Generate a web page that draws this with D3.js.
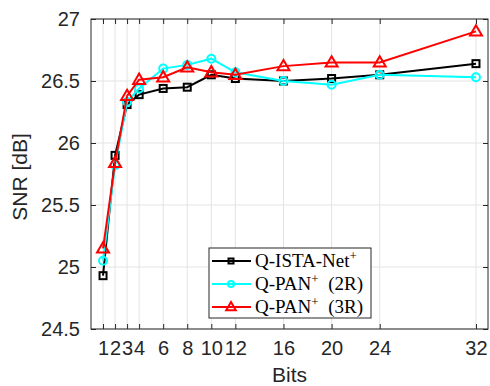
<!DOCTYPE html>
<html>
<head>
<meta charset="utf-8">
<script src="https://cdn.jsdelivr.net/npm/d3@7"></script>
<style>
body { margin: 0; background: #fff; }
svg { display: block; }
</style>
</head>
<body>
<svg id="chart" width="490" height="386"></svg>
<script>
// data
const bits = [1, 2, 3, 4, 6, 8, 10, 12, 16, 20, 24, 32]
const istaNet = [24.93, 25.90, 26.31, 26.39, 26.44, 26.45, 26.55, 26.52, 26.50, 26.52, 26.55, 26.64]
const pan2R = [25.05, 25.82, 26.33, 26.44, 26.60, 26.63, 26.68, 26.57, 26.50, 26.47, 26.55, 26.53]
const pan3R = [25.15, 25.84, 26.38, 26.51, 26.53, 26.61, 26.57, 26.55, 26.62, 26.65, 26.65, 26.90]
const yTicks = [24.5, 25, 25.5, 26, 26.5, 27]

const series = [
	{name: "Q-ISTA-Net", sup: "+", tail: "", values: istaNet, color: "#000000", marker: "square"},
	{name: "Q-PAN", sup: "+", tail: "\u00a0 (2R)", values: pan2R, color: "#00ffff", marker: "circle"},
	{name: "Q-PAN", sup: "+", tail: "\u00a0 (3R)", values: pan3R, color: "#ff0000", marker: "triangle"}
]

const svg = d3.select("#chart")
const m = {left: 91, right: 488, top: 19, bottom: 329}
const sans = "'Liberation Sans', Arial, sans-serif"

const x = d3.scaleLinear().domain([0, 33]).range([m.left, m.right])
const y = d3.scaleLinear().domain([24.5, 27]).range([m.bottom, m.top])

// grid
svg.append("g").selectAll("line")
	.data(bits).enter().append("line")
	.attr("x1", d => x(d)).attr("x2", d => x(d))
	.attr("y1", m.top).attr("y2", m.bottom)
	.attr("stroke", "#e3e3e3").attr("stroke-width", 1)
svg.append("g").selectAll("line")
	.data(yTicks).enter().append("line")
	.attr("x1", m.left).attr("x2", m.right)
	.attr("y1", d => y(d)).attr("y2", d => y(d))
	.attr("stroke", "#e3e3e3").attr("stroke-width", 1)

// axes (ticks inside, box)
const axcol = "#262626"
const xaxis = d3.axisBottom(x).tickValues(bits).tickSize(-5).tickPadding(12).tickFormat(d3.format("d"))
const xaxisTop = d3.axisTop(x).tickValues(bits).tickSize(-5).tickFormat("")
const yaxis = d3.axisLeft(y).tickValues(yTicks).tickSize(-5).tickPadding(11).tickFormat(d => d)
const yaxisR = d3.axisRight(y).tickValues(yTicks).tickSize(-5).tickFormat("")

function styleAxis(g){
	g.select(".domain").remove()
	g.selectAll(".tick line").attr("stroke", axcol)
	g.selectAll("text").attr("fill", axcol)
		.style("font-family", sans).style("font-size", "20px")
}

svg.append("g").attr("transform", "translate(0," + m.bottom + ")").call(xaxis).call(styleAxis)
svg.append("g").attr("transform", "translate(0," + m.top + ")").call(xaxisTop).call(styleAxis)
svg.append("g").attr("transform", "translate(" + m.left + ",0)").call(yaxis).call(styleAxis)
svg.append("g").attr("transform", "translate(" + m.right + ",0)").call(yaxisR).call(styleAxis)
svg.append("rect")
	.attr("x", m.left).attr("y", m.top)
	.attr("width", m.right - m.left).attr("height", m.bottom - m.top)
	.attr("fill", "none").attr("stroke", axcol).attr("stroke-width", 1)

// axis labels
svg.append("text")
	.attr("x", (m.left + m.right) / 2).attr("y", 382)
	.attr("text-anchor", "middle").attr("fill", axcol)
	.style("font-family", sans).style("font-size", "21px")
	.text("Bits")
svg.append("text")
	.attr("transform", "translate(27,177) rotate(-90)")
	.attr("text-anchor", "middle").attr("fill", axcol)
	.style("font-family", sans).style("font-size", "21px")
	.text("SNR [dB]")

// markers
function drawMarker(g, type, color, size){
	if (type === "square") {
		g.append("rect").attr("x", -size/2).attr("y", -size/2).attr("width", size).attr("height", size)
			.attr("fill", "none").attr("stroke", color).attr("stroke-width", 2)
	} else if (type === "circle") {
		g.append("circle").attr("r", size/2 + 0.5)
			.attr("fill", "none").attr("stroke", color).attr("stroke-width", 2)
	} else {
		const s = size + 3
		g.append("path")
			.attr("d", "M0," + (-s*0.62) + "L" + (s*0.6) + "," + (s*0.42) + "L" + (-s*0.6) + "," + (s*0.42) + "Z")
			.attr("fill", "none").attr("stroke", color).attr("stroke-width", 2)
	}
}

const line = d3.line().x(d => x(d[0])).y(d => y(d[1]))

series.forEach(s => {
	const pts = bits.map((b, i) => [b, s.values[i]])
	svg.append("path").datum(pts)
		.attr("d", line).attr("fill", "none")
		.attr("stroke", s.color).attr("stroke-width", 2)
	pts.forEach(p => {
		const g = svg.append("g").attr("transform", "translate(" + x(p[0]) + "," + y(p[1]) + ")")
		drawMarker(g, s.marker, s.color, 7)
	})
})

// legend
const lg = svg.append("g")
lg.append("rect").attr("x", 209).attr("y", 248).attr("width", 162).attr("height", 70)
	.attr("fill", "#fff").attr("stroke", axcol).attr("stroke-width", 1)
series.forEach((s, i) => {
	const cy = 261 + i * 23
	lg.append("line").attr("x1", 212).attr("x2", 251).attr("y1", cy).attr("y2", cy)
		.attr("stroke", s.color).attr("stroke-width", 2)
	const g = lg.append("g").attr("transform", "translate(231," + cy + ")")
	drawMarker(g, s.marker, s.color, 5)
	const t = lg.append("text").attr("x", 255).attr("y", cy + 6)
		.attr("fill", "#000")
		.style("font-family", "'Liberation Serif', 'Times New Roman', serif").style("font-size", "19px")
	t.append("tspan").text(s.name)
	t.append("tspan").attr("dy", -7).style("font-size", "13px").text(s.sup)
	t.append("tspan").attr("dy", 7).text(s.tail)
})
</script>
</body>
</html>
